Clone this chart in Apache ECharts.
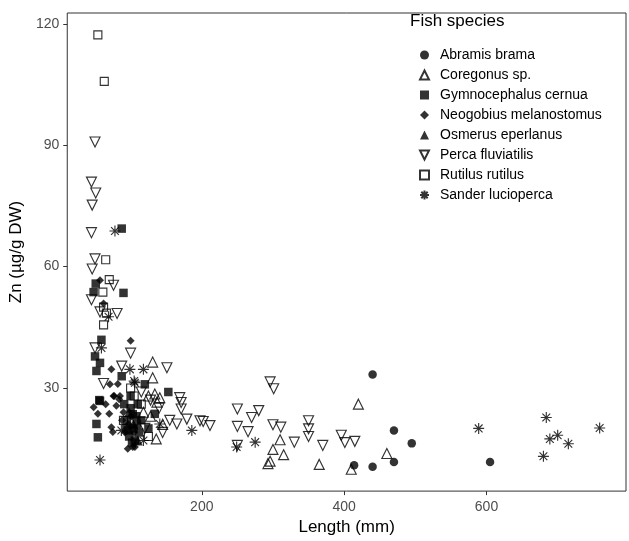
<!DOCTYPE html>
<html>
<head>
<meta charset="utf-8">
<script src="https://cdn.jsdelivr.net/npm/echarts@6/dist/echarts.min.js"></script>
<style>
  html, body { margin: 0; padding: 0; background: #fff; }
  #chart { width: 629px; height: 541px; }
</style>
</head>
<body>
<div id="chart"></div>
<script>
// data: [length (mm), Zn (ug/g DW)]
var abramis = [[414, 10.9], [440, 33.3], [440, 10.5], [470, 19.5], [470, 11.7], [495, 16.3], [605, 11.7]];
var coregonus = [[131, 36.4], [131, 32.5], [125, 28], [134, 28.5], [141, 27.6], [137, 26.5], [118, 24], [128, 23],
  [136, 17.4], [145, 21], [300, 14.8], [296, 11.9], [293, 11.3], [310, 17.2], [315, 13.5], [365, 11.1],
  [410, 9.9], [420, 26], [460, 13.8]];
var gymnocephalus = [[87.5, 69.4], [51, 55.8], [48, 53.7], [90, 53.5], [59, 41.9], [50, 37.8], [57, 36.2], [52, 34.2],
  [87.5, 32.9], [120, 30.9], [153, 29], [57, 26.8], [56, 27], [52, 21.1], [54, 17.8], [134, 23.6], [91, 26],
  [100, 25], [95, 22], [104, 20], [98, 18], [108, 23], [112, 19], [102, 16.5], [94, 20], [106, 17], [115, 22],
  [110, 26], [125, 20], [100, 28], [103, 23.5], [97, 19.5], [109, 21]];
var neogobius = [[57, 56.6], [62, 50.9], [100, 41.7], [73, 34.6], [71, 30.9], [76, 28], [85, 28], [48, 25.2],
  [54, 23.6], [70, 23.6], [73, 20.3], [75, 19.1], [96, 15], [103, 15.4], [106, 15.4], [77, 28], [84, 27.2],
  [80, 25.6], [90, 24], [97, 21], [92, 19], [101, 23], [105, 19], [88, 22], [65, 26], [82, 31]];
var osmerus = [[98, 24], [104, 21], [110, 17]];
var perca = [[50, 90.8], [45, 80.9], [51, 78.2], [46, 75.2], [45, 68.4], [50, 61.9], [46, 59.4], [76, 55.4],
  [45, 51.8], [81, 48.4], [57, 48.8], [50, 39.9], [100, 38.6], [87.5, 35.4], [62, 31.1], [151, 35], [169, 27.6],
  [171, 26.4], [171, 24.8], [165, 21.1], [179, 22.3], [197.5, 21.9], [211.5, 20.7], [202, 21.7], [296, 31.5],
  [301, 29.8], [250, 24.8], [280, 24.4], [270, 22.7], [250, 20.5], [265, 19.2], [300, 20.9], [311, 20.3],
  [350, 21.9], [350, 19.9], [350, 18], [330, 16.6], [370, 15.8], [396, 18.3], [401, 16.5], [415, 16.8],
  [250, 15.8], [140, 25], [128, 27], [115, 29], [120, 20], [145, 19], [155, 22]];
var rutilus = [[54, 117.3], [63, 105.8], [65, 61.7], [70, 56.8], [61, 53.7], [62, 50], [62, 45.6], [66, 48.5],
  [100, 30], [115, 26], [90, 22], [125, 18], [105, 28]];
var sander = [[78, 68.8], [69, 47.6], [59, 39.9], [99, 34.6], [118, 34.6], [106, 31.3], [118, 17], [141, 21.1],
  [186, 19.5], [249, 15.4], [275, 16.6], [57, 12.2], [87, 19.5], [105, 31.7], [589, 20], [684, 22.7],
  [689, 17.4], [700, 18.3], [715, 16.2], [680, 13.1], [759, 20.1]];

var xTicks = [200, 400, 600];
var yTicks = [30, 60, 90, 120];

var starPath = 'path://M0,-10L0,10M-10,0L10,0M-7.07,-7.07L7.07,7.07M-7.07,7.07L7.07,-7.07';
var downTri = 'path://M-10,-10L10,-10L0,10Z';
var font = 'Liberation Sans, Arial, sans-serif';

function mk(name, data, symbol, size, filled) {
  return {
    name: name,
    type: 'scatter',
    data: data,
    symbol: symbol,
    symbolSize: size,
    itemStyle: filled
      ? { color: '#000', borderWidth: 0 }
      : { color: 'rgba(0,0,0,0)', borderColor: '#000', borderWidth: 1.15 },
    emphasis: { disabled: true }
  };
}

var chart = echarts.init(document.getElementById('chart'));
chart.setOption({
  animation: false,
  textStyle: { fontFamily: font },
  title: {
    text: 'Fish species', left: 410, top: 13, padding: 0,
    textStyle: { fontSize: 17, fontWeight: 'normal', color: '#000', fontFamily: font }
  },
  legend: {
    orient: 'vertical', left: 414, top: 43,
    itemWidth: 9, itemHeight: 9, itemGap: 6,
    textStyle: { fontSize: 14, color: '#000', lineHeight: 14, padding: [0, 0, 0, 6], fontFamily: font },
    data: ['Abramis brama', 'Coregonus sp.', 'Gymnocephalus cernua', 'Neogobius melanostomus',
      'Osmerus eperlanus', 'Perca fluviatilis', 'Rutilus rutilus', 'Sander lucioperca']
  },
  grid: { left: 67, right: 3, top: 13, bottom: 44, show: true, borderColor: '#333', borderWidth: 1 },
  xAxis: {
    type: 'value', min: 11, max: 796,
    name: 'Length (mm)', nameLocation: 'middle', nameGap: 27,
    nameTextStyle: { fontSize: 17, color: '#000', fontFamily: font },
    splitLine: { show: false },
    axisLine: { show: false },
    axisTick: { show: true, length: 4, lineStyle: { color: '#333' }, customValues: xTicks },
    axisLabel: { fontSize: 14, color: '#4d4d4d', margin: 9, customValues: xTicks, fontFamily: font }
  },
  yAxis: {
    type: 'value', min: 4.5, max: 122.7,
    name: 'Zn (µg/g DW)', nameLocation: 'middle', nameGap: 31,
    nameTextStyle: { fontSize: 17, color: '#000', fontFamily: font },
    splitLine: { show: false },
    axisLine: { show: false },
    axisTick: { show: true, length: 4, lineStyle: { color: '#333' }, customValues: yTicks },
    axisLabel: { fontSize: 14, color: '#4d4d4d', margin: 8, customValues: yTicks, fontFamily: font }
  },
  series: [
    mk('Abramis brama', abramis, 'circle', 8.5, true),
    mk('Coregonus sp.', coregonus, 'triangle', 10, false),
    mk('Gymnocephalus cernua', gymnocephalus, 'rect', 8.5, true),
    mk('Neogobius melanostomus', neogobius, 'diamond', 8, true),
    mk('Osmerus eperlanus', osmerus, 'triangle', 10, true),
    mk('Perca fluviatilis', perca, downTri, 10, false),
    mk('Rutilus rutilus', rutilus, 'rect', 8, false),
    mk('Sander lucioperca', sander, starPath, 11, false)
  ]
});
</script>
</body>
</html>
